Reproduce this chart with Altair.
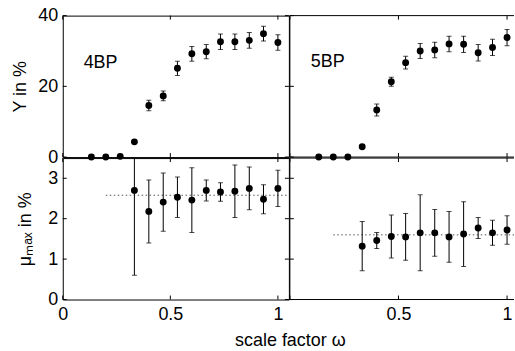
import altair as alt
import pandas as pd

# ---- data ----
omega = [0.133, 0.2, 0.267, 0.333, 0.4, 0.467, 0.533, 0.6, 0.667, 0.733, 0.8, 0.867, 0.933, 1.0]

y_4bp = [0.0, 0.0, 0.2, 4.3, 14.6, 17.3, 25.1, 29.2, 29.8, 32.6, 32.6, 33.0, 34.9, 32.4]
y_4bp_err = [0, 0, 0, 0, 1.5, 1.4, 2.0, 2.1, 2.0, 2.2, 2.2, 2.2, 2.1, 2.2]

y_5bp = [0.0, 0.0, 0.0, 2.9, 13.3, 21.3, 26.7, 30.0, 30.3, 32.0, 31.9, 29.5, 31.0, 33.8]
y_5bp_err = [0, 0, 0, 0, 1.7, 1.3, 1.8, 2.1, 2.2, 2.2, 2.3, 2.3, 2.3, 2.3]

omega_mu = [0.333, 0.4, 0.467, 0.533, 0.6, 0.667, 0.733, 0.8, 0.867, 0.933, 1.0]
mu_4bp = [2.70, 2.18, 2.41, 2.53, 2.46, 2.70, 2.66, 2.68, 2.75, 2.48, 2.75]
mu_4bp_err = [2.10, 0.78, 0.72, 0.50, 0.80, 0.26, 0.23, 0.65, 0.53, 0.36, 0.45]

mu_5bp = [1.32, 1.46, 1.56, 1.55, 1.65, 1.65, 1.55, 1.62, 1.77, 1.65, 1.72]
mu_5bp_err = [0.61, 0.20, 0.53, 0.58, 0.94, 0.58, 0.63, 0.80, 0.26, 0.31, 0.35]

mu_mean = [2.58, 1.60]
mean_start = 0.2

panel_labels = ["4BP", "5BP"]
label_pos_x = [0.097, 0.096]
label_pos_y = [26.5, 27.0]

x_ticks_left = [0, 0.5, 1]
x_ticks_right = [0.5, 1]
y_ticks_top = [0, 20, 40]
y_ticks_bottom = [0, 1, 2, 3]

# ---- layout ----
WL, WR, H = 227, 225, 142
XMAX_L = 1.051
XMAX_R = 1.032
YDOM_TOP = [0, 40]
YDOM_BOT = [0, 3.5]
FONT = "Liberation Sans"
TICK = 4


def panel(xs, ys, errs, ydom, width, xmax, yticks, xticks_draw, xlabels,
          ytitle=None, ytitle_x=None, xtitle=None, label=None, mean=None, left=True):
    df = pd.DataFrame({"x": xs, "y": ys, "e": errs})
    df["lo"] = df["y"] - df["e"]
    df["hi"] = df["y"] + df["e"]
    xscale = alt.Scale(domain=[0, xmax], nice=False, zero=False)
    yscale = alt.Scale(domain=ydom, nice=False, zero=False)

    if xlabels is not None:
        kw = dict(values=xlabels, format="~g", ticks=False, domain=False, grid=False,
                  labelPadding=6, labelFlush=False)
        if xtitle:
            kw.update(title=xtitle, titleX=WL + 1, titleAlign="center", titlePadding=8)
        else:
            kw.update(title=None)
        xaxis = alt.Axis(**kw)
    else:
        xaxis = None
    if left:
        yaxis = alt.Axis(values=yticks, title=ytitle, ticks=False, domain=False, grid=False,
                         labelPadding=5, titleX=ytitle_x)
    else:
        yaxis = None

    def X(f):
        return alt.X(f, scale=xscale, axis=xaxis)

    def Y(f):
        return alt.Y(f, scale=yscale, axis=yaxis)

    base = alt.Chart(df)
    ebars = base.transform_filter("datum.e > 0")
    layers = []
    if not left:
        # open frame on the right side (the reference is cut off there)
        one = alt.Chart(pd.DataFrame({"d": [0]}))
        layers += [
            one.mark_rule(color="black").encode(x=alt.value(0), x2=alt.value(width), y=alt.value(0)),
            one.mark_rule(color="black").encode(x=alt.value(0), x2=alt.value(width), y=alt.value(H)),
            one.mark_rule(color="black").encode(x=alt.value(0), y=alt.value(0), y2=alt.value(H)),
        ]
    if mean is not None:
        mdf = pd.DataFrame({"x": [mean_start], "x2": [xmax], "m": [mean]})
        layers.append(alt.Chart(mdf).mark_rule(color="#555555", strokeWidth=1, strokeDash=[1.5, 2.5]).encode(
            x=X("x:Q"), x2="x2:Q", y=Y("m:Q")))

    # inward ticks on all sides
    xt = alt.Chart(pd.DataFrame({"t": xticks_draw}))
    yt = alt.Chart(pd.DataFrame({"t": yticks}))
    layers += [
        xt.mark_rule(color="black").encode(x=X("t:Q"), y=alt.value(H), y2=alt.value(H - TICK)),
        xt.mark_rule(color="black").encode(x=X("t:Q"), y=alt.value(0), y2=alt.value(TICK)),
        yt.mark_rule(color="black").encode(y=Y("t:Q"), x=alt.value(0), x2=alt.value(TICK)),
    ]
    if left:
        layers.append(yt.mark_rule(color="black").encode(
            y=Y("t:Q"), x=alt.value(width), x2=alt.value(width - TICK)))
    layers.append(ebars.mark_rule(color="black", strokeWidth=1, clip=True).encode(
        x=X("x:Q"), y=Y("lo:Q"), y2="hi:Q"))
    layers.append(ebars.mark_tick(orient="horizontal", size=5, thickness=1, color="black", clip=True).encode(
        x=X("x:Q"), y=Y("lo:Q")))
    layers.append(ebars.mark_tick(orient="horizontal", size=5, thickness=1, color="black", clip=True).encode(
        x=X("x:Q"), y=Y("hi:Q")))
    layers.append(base.mark_circle(size=48, color="black", opacity=1).encode(x=X("x:Q"), y=Y("y:Q")))
    if label is not None:
        ldf = pd.DataFrame({"x": [label[1]], "y": [label[2]], "t": [label[0]]})
        layers.append(alt.Chart(ldf).mark_text(align="left", baseline="middle", fontSize=18,
                                               font=FONT, color="black").encode(
            x=X("x:Q"), y=Y("y:Q"), text="t:N"))
    ch = alt.layer(*layers).properties(width=width, height=H)
    if not left:
        ch = ch.properties(view=alt.ViewBackground(strokeOpacity=0))
    return ch


TL = panel(omega, y_4bp, y_4bp_err, YDOM_TOP, WL, XMAX_L, y_ticks_top, x_ticks_left, None,
           ytitle="Y in %", ytitle_x=-33,
           label=(panel_labels[0], label_pos_x[0], label_pos_y[0]))
TR = panel(omega, y_5bp, y_5bp_err, YDOM_TOP, WR, XMAX_R, y_ticks_top, x_ticks_left, None,
           label=(panel_labels[1], label_pos_x[1], label_pos_y[1]), left=False)
BL = panel(omega_mu, mu_4bp, mu_4bp_err, YDOM_BOT, WL, XMAX_L, y_ticks_bottom, x_ticks_left, x_ticks_left,
           ytitle="μₘₐₓ in %", ytitle_x=-28, xtitle="scale factor ω", mean=mu_mean[0])
BR = panel(omega_mu, mu_5bp, mu_5bp_err, YDOM_BOT, WR, XMAX_R, y_ticks_bottom, x_ticks_left, x_ticks_right,
           mean=mu_mean[1], left=False)

chart = alt.concat(TL, TR, BL, BR, columns=2, spacing=1, bounds="flush").properties(
    padding={"left": 11, "top": 5, "right": 0, "bottom": 0},
    background="white",
).configure_view(
    stroke="black", strokeWidth=1
).configure_axis(
    labelFont=FONT, labelFontSize=18, labelColor="black",
    titleFont=FONT, titleFontSize=18, titleColor="black", titleFontWeight="normal",
)

chart.save("out.html", embed_options={"renderer": "svg", "actions": False})
